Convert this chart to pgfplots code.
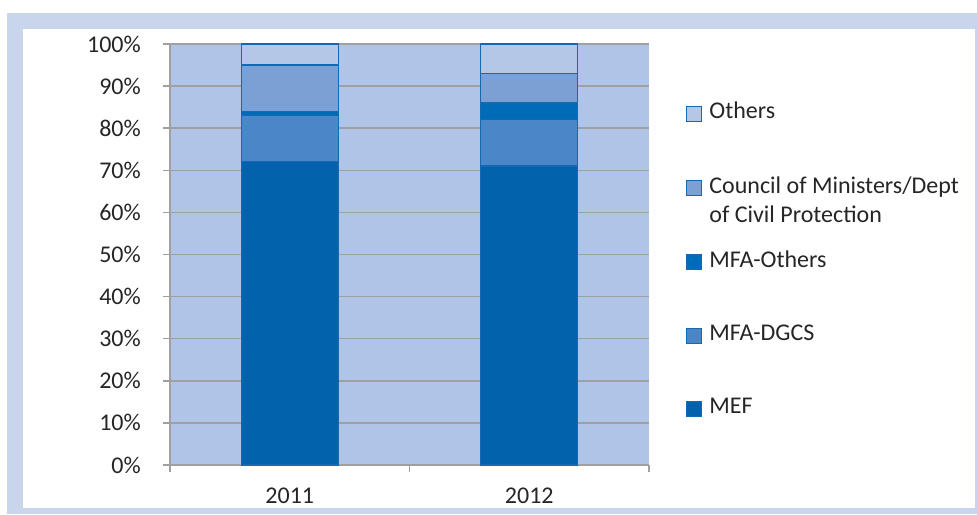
\documentclass[border=0pt]{standalone}
\usepackage{fontspec}
\setmainfont{Carlito}
\usepackage{pgfplots}
\pgfplotsset{compat=1.18}
\definecolor{frameband}{RGB}{201,213,235}
\definecolor{plotbg}{RGB}{175,196,230}
\definecolor{cMEF}{RGB}{2,99,172}
\definecolor{cDGCS}{RGB}{74,134,200}
\definecolor{cMFAO}{RGB}{0,108,184}
\definecolor{cCouncil}{RGB}{124,160,212}
\definecolor{cOthers}{RGB}{180,199,231}
\definecolor{edge}{RGB}{20,106,178}
\definecolor{gridgray}{RGB}{160,160,160}
\definecolor{txt}{RGB}{38,38,38}
\begin{document}
\fontsize{24}{29}\selectfont
\begin{tikzpicture}[x=1pt,y=1pt]
\useasboundingbox (0,0) rectangle (977,514);
\fill[frameband] (7,0) rectangle (977,501);
\fill[white] (23,6) rectangle (975,485);
\begin{axis}[
  at={(170pt,49pt)}, anchor=south west,
  scale only axis, width=479pt, height=421pt,
  ybar stacked, bar width=97pt,
  xmin=-0.5, xmax=1.5, ymin=0, ymax=100,
  xtick={-0.5,0.5,1.5}, xticklabels={},
  extra x ticks={0,1}, extra x tick labels={2011,2012},
  extra x tick style={major tick length=0pt},
  ytick={0,10,...,100},
  yticklabels={0\%,10\%,20\%,30\%,40\%,50\%,60\%,70\%,80\%,90\%,100\%},
  tick align=outside,
  major tick length=7pt,
  tick style={gridgray, line width=1.5pt},
  axis lines*=left,
  axis line style={gridgray, line width=1.5pt},
  ymajorgrids, grid style={gridgray, line width=1.5pt},
  axis background/.style={fill=plotbg},
  tick label style={font=\fontsize{24}{29}\selectfont, text=txt},
  yticklabel style={xshift=-14pt},
  xticklabel style={yshift=-15pt},
  legend style={at={(1,1)}, anchor=north west, xshift=34pt, yshift=-54pt,
    draw=none, fill=none, font=\fontsize{24}{29}\selectfont, text=txt,
    row sep=50pt, cells={anchor=west},
    /tikz/every odd column/.append style={column sep=5pt}},
  legend image code/.code={\draw[#1, line width=1.2pt] (0pt,-9pt) rectangle (15pt,6pt);},
  reverse legend,
  every axis plot/.append style={draw=edge, line width=1.2pt},
]
\addplot[fill=cMEF] coordinates {(0,72) (1,71)};
\addlegendentry{MEF}
\addplot[fill=cDGCS] coordinates {(0,11) (1,11)};
\addlegendentry{MFA-DGCS}
\addplot[fill=cMFAO] coordinates {(0,1) (1,4)};
\addlegendentry{MFA-Others}
\addplot[fill=cCouncil] coordinates {(0,11) (1,7)};
\addlegendentry{\raisebox{0pt}[\height][0pt]{\parbox[t]{265pt}{Council of Ministers/Dept\\of Civil Protection}}}
\addplot[fill=cOthers] coordinates {(0,5) (1,7)};
\addlegendentry{Others}
\end{axis}
\end{tikzpicture}
\end{document}
